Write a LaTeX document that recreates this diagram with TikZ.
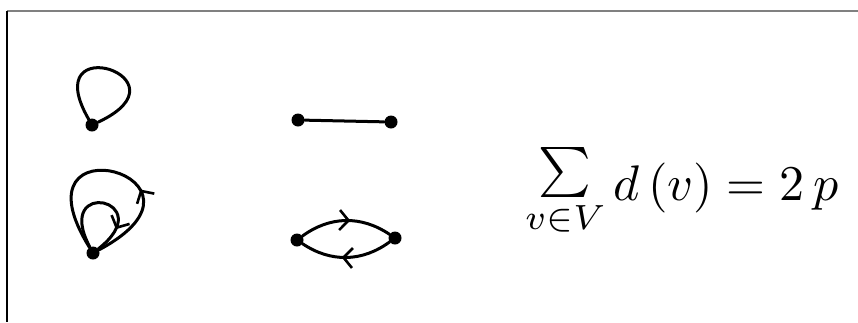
\documentclass[tikz,border=0pt]{standalone}
\usepackage{amsmath,amssymb}
\usepackage{tikz}
\usetikzlibrary{arrows.meta,decorations.markings}

\begin{document}
\begin{tikzpicture}[
    x=1pt, y=1pt,
    vertex/.style={circle, fill, inner sep=0pt, minimum size=13pt},
    pen/.style={line width=3pt, line cap=round},
    midarrow/.style={postaction={decorate}, decoration={markings,
        mark=at position #1 with {\arrow{Straight Barb[length=9pt,width=20pt,line width=2.6pt]}}}},
    formula/.style={inner sep=0pt, scale=5, transform shape}
]
    \useasboundingbox (0,0) rectangle (858,-322);

    % Frame
    \draw[gray, line width=1.6pt] (7,-11) -- (858,-11);
    \draw[line width=1.1pt] (7,-11) -- (7,-322);

    % Loops
    \node[vertex] (loop_top) at (92,-125) {};
    \node[vertex] (loop_bot) at (93,-253) {};
    \draw[pen] (loop_top) to[out=120, in=25, min distance=106pt] (loop_top);
    \draw[pen, midarrow=0.36] (loop_bot) to[out=28, in=122, min distance=155pt] (loop_bot);
    \draw[pen, midarrow=0.78] (loop_bot) to[out=118, in=38, min distance=80pt] (loop_bot);

    % Edge
    \node[vertex] (line_l) at (298,-120) {};
    \node[vertex] (line_r) at (391,-122) {};
    \draw[pen] (line_l) -- (line_r);

    % Two-cycle
    \node[vertex] (cyc_l) at (297,-240) {};
    \node[vertex] (cyc_r) at (395,-238) {};
    \draw[pen, midarrow=0.55] (cyc_l) to[bend left=35] (cyc_r);
    \draw[pen, midarrow=0.55] (cyc_r) to[bend left=35] (cyc_l);

    % Degree sum
    \node[formula, anchor=base west] (degsum) at (524,-200)
        {$\raisebox{3pt}{$\sum\limits_{v\in V}$}\,d\,(v) = 2\,p$};
\end{tikzpicture}
\end{document}
